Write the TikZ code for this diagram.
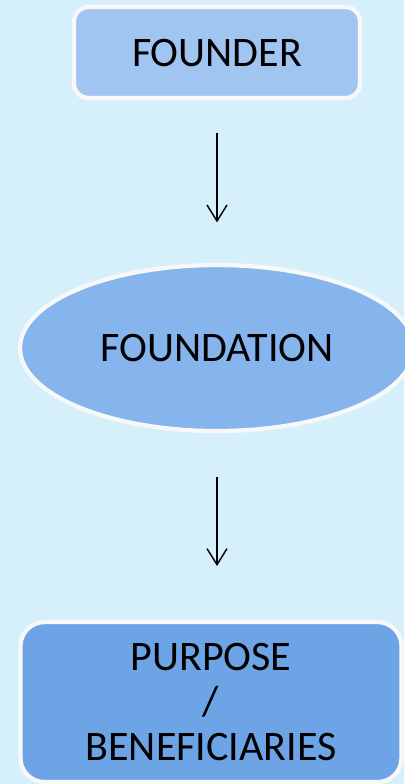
\documentclass[tikz,border=0pt]{standalone}
\usepackage{fontspec}
\setmainfont{Carlito}
\usepackage{tikz}
\usetikzlibrary{positioning, arrows.meta, shapes.geometric}
\definecolor{ChartBack}{RGB}{214,240,251}
\definecolor{ChartLight}{RGB}{160,197,241}
\definecolor{ChartMid}{RGB}{134,181,237}
\definecolor{ChartDark}{RGB}{108,164,230}
\definecolor{ChartRim}{RGB}{248,248,248}

\begin{document}
\begin{tikzpicture}[
    font=\fontsize{31.5}{34}\selectfont,
    >={Straight Barb[length=12pt,width=15pt]},
    box/.style={
        draw=ChartRim,
        line width=3.2pt,
        outer sep=0pt,
        rounded corners=11pt,
        align=center
    },
    ovalbox/.style={
        draw=ChartRim,
        line width=3.2pt,
        outer sep=0pt,
        ellipse,
        align=center,
        fill=ChartMid,
        minimum width=295.5pt,
        minimum height=124.5pt
    },
    arrow/.style={
        ->,
        line width=1.1pt,
        black
    }
]
\fill[ChartBack] (0,0) rectangle (303pt,-588pt);
\useasboundingbox (0,0) rectangle (303pt,-588pt);

% Founder at the top
\node[box, fill=ChartLight, minimum width=214.5pt, minimum height=68.25pt] (founder) at (162.75pt,-39.4pt) {FOUNDER};

% Foundation in the middle
\node[ovalbox, below=125.25pt of founder] (foundation) {FOUNDATION};

% Purpose at the bottom
\node[box, fill=ChartDark, rounded corners=18pt, minimum width=285.75pt, minimum height=120pt,
      below=143.25pt of foundation, xshift=-4.5pt] (purpose) {PURPOSE\\/\\BENEFICIARIES};

% Arrows
\draw[arrow, shorten <=26pt, shorten >=32pt] (founder.south) -- (foundation.north);
\draw[arrow, shorten <=34.5pt, shorten >=42pt] (foundation.south) -- (foundation.south |- purpose.north);

\end{tikzpicture}
\end{document}
